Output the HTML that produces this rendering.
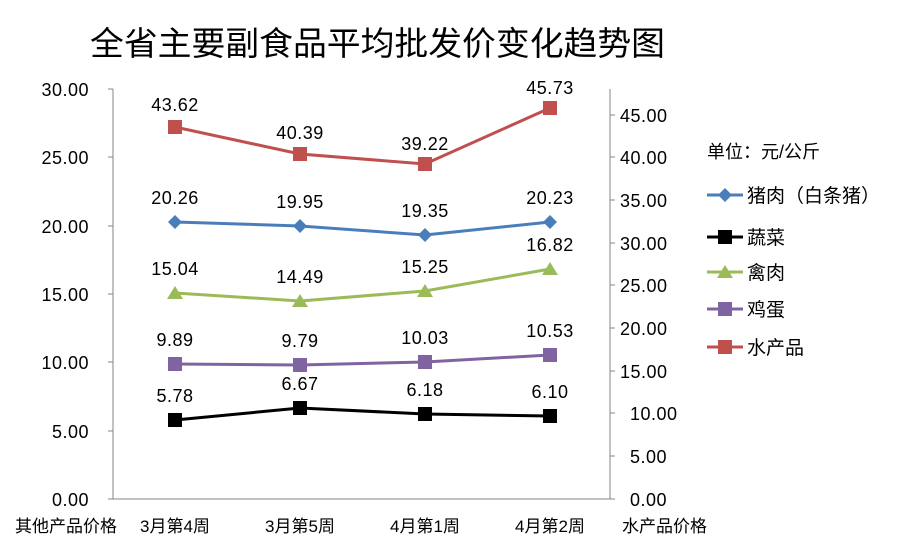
<!DOCTYPE html>
<html><head><meta charset="utf-8"><style>
body{margin:0;background:#fff}
svg{display:block}
text{font-family:"Liberation Sans","Noto Sans CJK SC",sans-serif;fill:#000}
.n{letter-spacing:0.5px}
</style></head><body>
<svg width="912" height="559" viewBox="0 0 912 559">
<rect width="912" height="559" fill="#fff"/>
<text x="90" y="55" font-size="33" textLength="575" lengthAdjust="spacingAndGlyphs">全省主要副食品平均批发价变化趋势图</text>
<line x1="113" y1="89" x2="113" y2="499" stroke="#868686" stroke-width="1"/>
<line x1="610" y1="89" x2="610" y2="499" stroke="#868686" stroke-width="1"/>
<line x1="113" y1="499" x2="610" y2="499" stroke="#868686" stroke-width="1"/>
<g stroke="#868686">
<line x1="108" y1="89" x2="113" y2="89"/><line x1="108" y1="157" x2="113" y2="157"/><line x1="108" y1="226" x2="113" y2="226"/><line x1="108" y1="294" x2="113" y2="294"/><line x1="108" y1="362" x2="113" y2="362"/><line x1="108" y1="431" x2="113" y2="431"/><line x1="108" y1="499" x2="113" y2="499"/>
<line x1="610" y1="115" x2="615" y2="115"/><line x1="610" y1="157" x2="615" y2="157"/><line x1="610" y1="200" x2="615" y2="200"/><line x1="610" y1="243" x2="615" y2="243"/><line x1="610" y1="285" x2="615" y2="285"/><line x1="610" y1="328" x2="615" y2="328"/><line x1="610" y1="371" x2="615" y2="371"/><line x1="610" y1="413" x2="615" y2="413"/><line x1="610" y1="456" x2="615" y2="456"/><line x1="610" y1="499" x2="615" y2="499"/>
</g>
<g font-size="18" text-anchor="end" class="n">
<text x="89" y="96">30.00</text><text x="89" y="164">25.00</text><text x="89" y="233">20.00</text><text x="89" y="301">15.00</text><text x="89" y="369">10.00</text><text x="89" y="438">5.00</text><text x="89" y="506">0.00</text>
</g>
<g font-size="18" text-anchor="start" class="n">
<text x="620" y="122">45.00</text><text x="620" y="164">40.00</text><text x="620" y="207">35.00</text><text x="620" y="250">30.00</text><text x="620" y="292">25.00</text><text x="620" y="335">20.00</text><text x="620" y="378">15.00</text><text x="630" y="420">10.00</text><text x="630" y="463">5.00</text><text x="630" y="506">0.00</text>
</g>
<g font-size="17">
<text x="15" y="532">其他产品价格</text>
<text x="622" y="532">水产品价格</text>
<text x="175" y="532" text-anchor="middle">3月第4周</text>
<text x="300" y="532" text-anchor="middle">3月第5周</text>
<text x="425" y="532" text-anchor="middle">4月第1周</text>
<text x="550" y="532" text-anchor="middle">4月第2周</text>
</g>
<polyline points="175,127 300,154 425,164 550,108" fill="none" stroke="#c0504d" stroke-width="3"/>
<g fill="#c0504d"><rect x="168" y="120" width="14" height="14"/><rect x="293" y="147" width="14" height="14"/><rect x="418" y="157" width="14" height="14"/><rect x="543" y="101" width="14" height="14"/></g>
<polyline points="175,222 300,226 425,235 550,222" fill="none" stroke="#4a7ebb" stroke-width="3"/>
<g fill="#4a7ebb"><path d="M175,215l7,7l-7,7l-7,-7z"/><path d="M300,219l7,7l-7,7l-7,-7z"/><path d="M425,228l7,7l-7,7l-7,-7z"/><path d="M550,215l7,7l-7,7l-7,-7z"/></g>
<polyline points="175,293 300,301 425,291 550,269" fill="none" stroke="#9bbb59" stroke-width="3"/>
<g fill="#9bbb59"><path d="M175,286l8,13h-16z"/><path d="M300,294l8,13h-16z"/><path d="M425,284l8,13h-16z"/><path d="M550,262l8,13h-16z"/></g>
<polyline points="175,364 300,365 425,362 550,355" fill="none" stroke="#8064a2" stroke-width="3"/>
<g fill="#8064a2"><rect x="168" y="357" width="14" height="14"/><rect x="293" y="358" width="14" height="14"/><rect x="418" y="355" width="14" height="14"/><rect x="543" y="348" width="14" height="14"/></g>
<polyline points="175,420 300,408 425,414 550,416" fill="none" stroke="#000" stroke-width="3"/>
<g fill="#000"><rect x="168" y="413" width="14" height="14"/><rect x="293" y="401" width="14" height="14"/><rect x="418" y="407" width="14" height="14"/><rect x="543" y="409" width="14" height="14"/></g>
<g font-size="18" text-anchor="middle" class="n">
<text x="175" y="111">43.62</text><text x="300" y="139">40.39</text><text x="425" y="150">39.22</text><text x="550" y="94">45.73</text>
<text x="175" y="204">20.26</text><text x="300" y="208">19.95</text><text x="425" y="217">19.35</text><text x="550" y="204">20.23</text>
<text x="175" y="275">15.04</text><text x="300" y="283">14.49</text><text x="425" y="273">15.25</text><text x="550" y="251">16.82</text>
<text x="175" y="346">9.89</text><text x="300" y="347">9.79</text><text x="425" y="344">10.03</text><text x="550" y="337">10.53</text>
<text x="175" y="402">5.78</text><text x="300" y="390">6.67</text><text x="425" y="396">6.18</text><text x="550" y="398">6.10</text>
</g>
<text x="707" y="158" font-size="18">单位：元/公斤</text>
<g font-size="19">
<line x1="707" y1="195" x2="743" y2="195" stroke="#4a7ebb" stroke-width="3"/><path d="M725,188l7,7l-7,7l-7,-7z" fill="#4a7ebb"/><text x="747" y="202">猪肉（白条猪）</text>
<line x1="707" y1="237" x2="743" y2="237" stroke="#000" stroke-width="3"/><rect x="718" y="230" width="14" height="14"/><text x="747" y="244">蔬菜</text>
<line x1="707" y1="272" x2="743" y2="272" stroke="#9bbb59" stroke-width="3"/><path d="M725,265l8,13h-16z" fill="#9bbb59"/><text x="747" y="279">禽肉</text>
<line x1="707" y1="309" x2="743" y2="309" stroke="#8064a2" stroke-width="3"/><rect x="718" y="302" width="14" height="14" fill="#8064a2"/><text x="747" y="316">鸡蛋</text>
<line x1="707" y1="347" x2="743" y2="347" stroke="#c0504d" stroke-width="3"/><rect x="718" y="340" width="14" height="14" fill="#c0504d"/><text x="747" y="354">水产品</text>
</g>
</svg>
</body></html>
